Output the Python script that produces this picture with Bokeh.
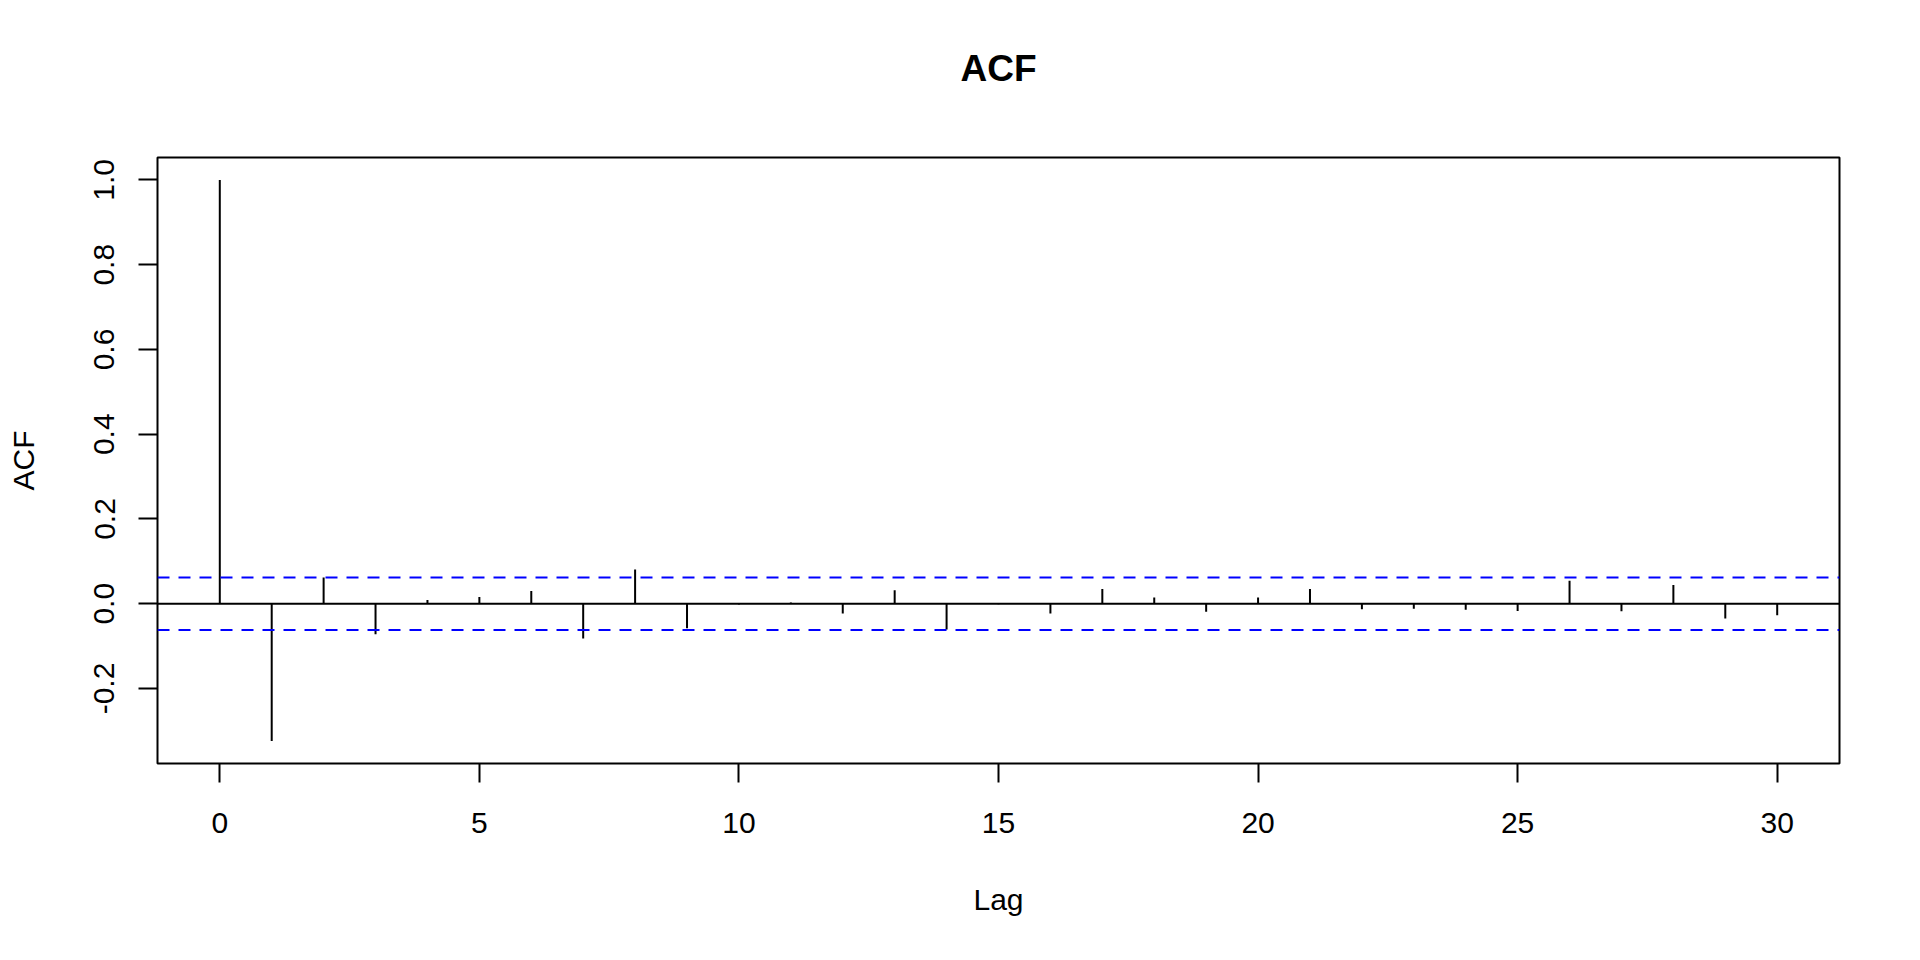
from bokeh.plotting import figure
from bokeh.models import Range1d, FixedTicker, PrintfTickFormatter, Span, Title
from bokeh.embed import file_html
from bokeh.resources import INLINE

# ---- data ----
lags = list(range(31))
acf = [1.000, -0.324, 0.062, -0.072, 0.009, 0.016, 0.030, -0.082, 0.081, -0.058,
       -0.002, 0.003, -0.023, 0.032, -0.061, -0.001, -0.023, 0.035, 0.015, -0.019,
       0.015, 0.035, -0.013, -0.012, -0.014, -0.017, 0.054, -0.018, 0.044, -0.035,
       -0.027]
ci = 0.062
x_ticks = [0, 5, 10, 15, 20, 25, 30]
y_ticks = [-0.2, 0.0, 0.2, 0.4, 0.6, 0.8, 1.0]

FONT = "Liberation Sans"

xr = max(lags) - min(lags)
ymin, ymax = min(acf), max(acf)
yr = ymax - ymin

p = figure(width=1904, height=944, output_backend="svg", toolbar_location=None, title=None,
           x_range=Range1d(min(lags) - 0.04 * xr, max(lags) + 0.04 * xr),
           y_range=Range1d(ymin - 0.04 * yr, ymax + 0.04 * yr),
           min_border_left=157, min_border_right=65, min_border_top=157, min_border_bottom=181)

p.grid.visible = False
p.outline_line_color = "black"
p.outline_line_width = 2
p.background_fill_color = "white"
p.border_fill_color = "white"

# spacer between frame and title, then the main title
p.add_layout(Title(text=" ", text_font_size="1px", standoff=56), "above")
p.add_layout(Title(text="ACF", align="center", text_font=FONT, text_font_size="37px",
                   text_font_style="bold", text_color="black", standoff=20), "above")

for ax in (p.xaxis[0], p.yaxis[0]):
    ax.axis_line_color = None
    ax.major_tick_in = 0
    ax.major_tick_out = 19
    ax.major_tick_line_width = 2
    ax.major_tick_line_color = "black"
    ax.minor_tick_line_color = None
    ax.major_label_text_font = FONT
    ax.major_label_text_font_size = "30px"
    ax.major_label_text_color = "black"
    ax.axis_label_text_font = FONT
    ax.axis_label_text_font_size = "30px"
    ax.axis_label_text_font_style = "normal"
    ax.axis_label_text_color = "black"

p.xaxis.ticker = FixedTicker(ticks=x_ticks)
p.xaxis.formatter = PrintfTickFormatter(format="%d")
p.xaxis.axis_label = "Lag"
p.xaxis.major_label_standoff = 30
p.xaxis.axis_label_standoff = 47

p.yaxis.ticker = FixedTicker(ticks=y_ticks)
p.yaxis.formatter = PrintfTickFormatter(format="%.1f")
p.yaxis.major_label_orientation = "vertical"
p.yaxis.axis_label = "ACF"
p.yaxis.major_label_standoff = 24
p.yaxis.axis_label_standoff = 52

# zero line and confidence bounds
p.add_layout(Span(location=0, dimension="width", line_color="black", line_width=2))
p.add_layout(Span(location=ci, dimension="width", line_color="blue", line_width=2,
                  line_dash="12 9"))
p.add_layout(Span(location=-ci, dimension="width", line_color="blue", line_width=2,
                  line_dash="12 9"))

# ACF spikes
p.segment(x0=lags, y0=[0] * len(lags), x1=lags, y1=acf, line_color="black", line_width=2)

open("out.html", "w").write(file_html(p, INLINE))
